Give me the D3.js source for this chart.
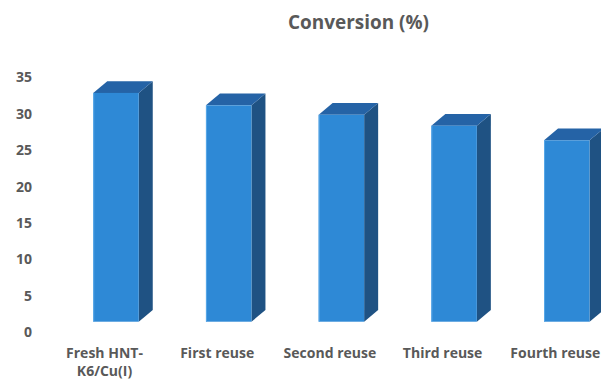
<!DOCTYPE html>
<html>
<head>
<meta charset="utf-8">
<script src="https://cdn.jsdelivr.net/npm/d3@7"></script>
<style>
  html, body { margin: 0; padding: 0; background: #fff; }
  svg { display: block; }
</style>
</head>
<body>
<svg id="chart" width="601" height="380"></svg>
<script>
// Catalyst reuse runs and the measured conversion for each
const categories = ["Fresh HNT-K6/Cu(I)", "First reuse", "Second reuse", "Third reuse", "Fourth reuse"];
const categoryLines = [["Fresh HNT-", "K6/Cu(I)"], ["First reuse"], ["Second reuse"], ["Third reuse"], ["Fourth reuse"]];
const conversion = [31.4, 29.7, 28.4, 26.9, 24.9];
const yTicks = [0, 5, 10, 15, 20, 25, 30, 35];
const chartTitle = "Conversion (%)";

const svg = d3.select("#chart");
const textColor = "#595959";
const font = "'Open Sans', 'Noto Sans', sans-serif";

// Scales on the front plane of the floor (where the axis labels sit)
const x = d3.scalePoint().domain(categories).range([48.15, 611.65]).padding(0.5);
const y = d3.scaleLinear().domain([0, 35]).range([331.7, 76.7]);

// 3D look: columns stand back from the axis plane and have their own depth
const shift = { dx: 11.5, dy: -10 };
const depth = { dx: 14, dy: -11.7 };
const barW = 45.5;

const colors = { front: "#2e89d6", top: "#2563a6", side: "#1f5283", edge: "#5aa8e8" };

// Title
svg.append("text")
  .attr("x", 358.5).attr("y", 29)
  .attr("text-anchor", "middle")
  .attr("font-family", font).attr("font-weight", 700).attr("font-size", 19)
  .attr("textLength", 141).attr("lengthAdjust", "spacingAndGlyphs")
  .attr("fill", textColor)
  .text(chartTitle);

// Value axis (labels only)
const yAxis = d3.axisLeft(y).tickValues(yTicks).tickSize(0).tickPadding(0);
const gy = svg.append("g").attr("transform", "translate(32,0)").call(yAxis);
gy.select(".domain").remove();
gy.selectAll("text")
  .attr("font-family", font).attr("font-weight", 700).attr("font-size", 14)
  .attr("fill", textColor).attr("dy", "0.36em");

// Columns
const bars = svg.append("g").selectAll("g.bar")
  .data(categories.map((c, i) => ({ c, v: conversion[i] })))
  .join("g").attr("class", "bar");

function geom(d) {
  const cx = x(d.c) + shift.dx;
  const xl = cx - barW / 2, xr = cx + barW / 2;
  const yb = y(0) + shift.dy, yt = y(d.v) + shift.dy;
  return { xl, xr, yb, yt };
}

bars.append("path") // side face
  .attr("fill", colors.side)
  .attr("d", d => {
    const g = geom(d);
    return `M${g.xr},${g.yt} L${g.xr + depth.dx},${g.yt + depth.dy} L${g.xr + depth.dx},${g.yb + depth.dy} L${g.xr},${g.yb} Z`;
  });

bars.append("path") // top face
  .attr("fill", colors.top)
  .attr("d", d => {
    const g = geom(d);
    return `M${g.xl},${g.yt} L${g.xr},${g.yt} L${g.xr + depth.dx},${g.yt + depth.dy} L${g.xl + depth.dx},${g.yt + depth.dy} Z`;
  });

bars.append("rect") // front face
  .attr("fill", colors.front)
  .attr("x", d => geom(d).xl)
  .attr("y", d => geom(d).yt)
  .attr("width", barW)
  .attr("height", d => geom(d).yb - geom(d).yt);

bars.append("line") // soft highlight on the front left edge
  .attr("stroke", colors.edge).attr("stroke-width", 1)
  .attr("x1", d => geom(d).xl + 0.5).attr("x2", d => geom(d).xl + 0.5)
  .attr("y1", d => geom(d).yt).attr("y2", d => geom(d).yb);

// Category labels
const labels = svg.append("g").selectAll("text")
  .data(categories)
  .join("text")
  .attr("x", d => x(d))
  .attr("y", 358)
  .attr("text-anchor", "middle")
  .attr("font-family", font).attr("font-weight", 700).attr("font-size", 14)
  .attr("fill", textColor);

labels.each(function (d, i) {
  d3.select(this).selectAll("tspan")
    .data(categoryLines[i])
    .join("tspan")
    .attr("x", x(d))
    .attr("dy", (t, j) => j === 0 ? 0 : 18)
    .text(t => t);
});
</script>
</body>
</html>
